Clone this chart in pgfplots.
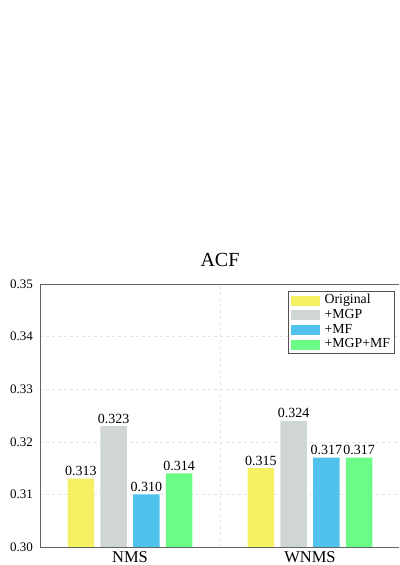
\documentclass[border=0pt]{standalone}
\usepackage{pgfplots}
\pgfplotsset{compat=1.18}
\usepackage{fontspec}
\setmainfont{Liberation Serif}
\definecolor{cyel}{RGB}{245,240,100}
\definecolor{cgry}{RGB}{208,214,214}
\definecolor{cblu}{RGB}{80,194,236}
\definecolor{cgrn}{RGB}{107,251,135}
\definecolor{axgray}{RGB}{100,100,100}
\definecolor{gridc}{RGB}{228,228,228}
\begin{document}
\begin{tikzpicture}
\path[use as bounding box, clip] (0,0) rectangle (399pt,565pt);
\begin{axis}[
  at={(40pt,18pt)}, anchor=south west,
  width=360pt, height=263pt, scale only axis,
  xmin=-0.5, xmax=1.5, ymin=0.30, ymax=0.35,
  ybar=6.3pt, bar width=26.5pt,
  xtick={0,1}, xticklabels={NMS,WNMS},
  ytick={0.30,0.31,0.32,0.33,0.34,0.35},
  yticklabels={0.30,0.31,0.32,0.33,0.34,0.35},
  extra x ticks={0.5}, extra x tick labels={},
  extra x tick style={grid=major, major tick length=0pt},
  major tick length=0pt,
  ymajorgrids,
  grid style={gridc, dashed, line width=0.6pt},
  axis line style={axgray, line width=0.9pt},
  xticklabel style={font=\fontsize{16.5}{18}\selectfont, inner sep=0pt, anchor=north, yshift=-4pt},
  yticklabel style={font=\fontsize{13}{15}\selectfont, inner sep=0pt, anchor=east, xshift=-7pt},
  title=ACF,
  title style={at={(0.5,1)}, anchor=base, yshift=11.5pt, inner sep=0pt, font=\fontsize{20}{24}\selectfont},
  point meta=explicit symbolic,
  nodes near coords,
  every node near coord/.append style={font=\fontsize{14}{15}\selectfont, inner sep=0pt, anchor=south, yshift=2.5pt, black},
  legend style={at={(1,1)}, anchor=north east, xshift=-5pt, yshift=-7pt,
    draw=axgray!80!black, line width=0.8pt, font=\fontsize{13.8}{15}\selectfont,
    inner xsep=3pt, inner ysep=2pt, row sep=0pt,
    nodes={inner ysep=1.4pt, inner xsep=1.5pt, text height=9pt, text depth=2.8pt}},
  legend cell align=left,
  legend image code/.code={\fill[#1] (0pt,-5pt) rectangle (29pt,5pt); \path (32pt,0pt);},
]
\addplot[draw=none, fill=cyel] coordinates {(0,0.313) [0.313] (1,0.315) [0.315]};
\addplot[draw=none, fill=cgry] coordinates {(0,0.323) [0.323] (1,0.324) [0.324]};
\addplot[draw=none, fill=cblu] coordinates {(0,0.310) [0.310] (1,0.317) [0.317]};
\addplot[draw=none, fill=cgrn] coordinates {(0,0.314) [0.314] (1,0.317) [0.317]};
\legend{Original,+MGP,+MF,+MGP+MF}
\end{axis}
\end{tikzpicture}
\end{document}
